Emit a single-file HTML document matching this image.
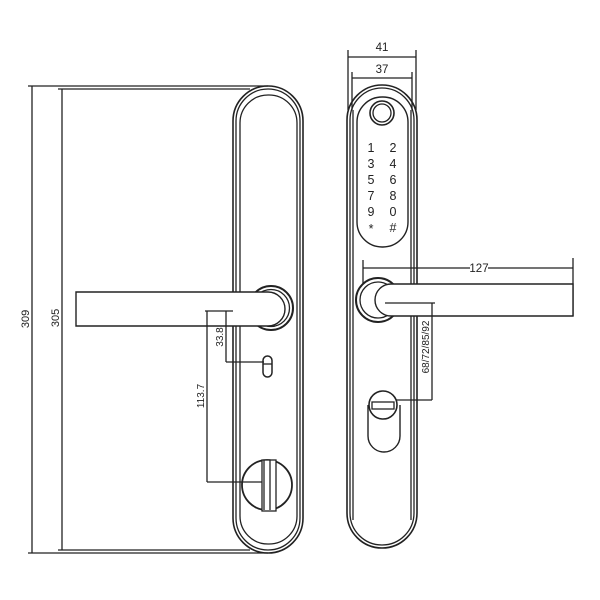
<!DOCTYPE html>
<html><head><style>
html,body{margin:0;padding:0;background:#fff;}
svg{display:block;}
text{font-family:"Liberation Sans",sans-serif;fill:#222;}
</style></head><body>
<svg width="600" height="600" viewBox="0 0 600 600" xmlns="http://www.w3.org/2000/svg">
<g fill="none" stroke="#222" stroke-width="1.3">
<line x1="28" y1="86" x2="268" y2="86"/>
<line x1="28" y1="553" x2="268" y2="553"/>
<line x1="32" y1="86" x2="32" y2="553"/>
<line x1="58" y1="89" x2="250" y2="89"/>
<line x1="58" y1="550" x2="250" y2="550"/>
<line x1="62" y1="89" x2="62" y2="550"/>
<rect x="233" y="86" width="70" height="467" rx="35" stroke-width="1.6"/>
<rect x="236" y="89" width="64" height="461" rx="32"/>
<rect x="240" y="95" width="57" height="449" rx="28"/>
<circle cx="271" cy="308" r="22" stroke-width="2"/>
<circle cx="271" cy="308" r="18.5"/>
<path d="M268 292 L76 292 L76 326 L268 326 A17 17 0 0 0 268 292 Z" fill="#fff" stroke-width="1.4"/>
<line x1="205" y1="311" x2="233" y2="311"/>
<line x1="226" y1="311" x2="226" y2="362"/>
<line x1="226" y1="362" x2="264" y2="362"/>
<line x1="207" y1="311" x2="207" y2="482"/>
<line x1="207" y1="482" x2="265" y2="482"/>
<rect x="263" y="356" width="9" height="21" rx="4.5" stroke-width="1.5"/>
<line x1="263" y1="364" x2="272" y2="364"/>
<circle cx="267" cy="485" r="25" stroke-width="1.8"/>
<rect x="262" y="460" width="14" height="51" fill="#fff"/>
<line x1="264" y1="460" x2="264" y2="510"/>
<line x1="270" y1="460" x2="270" y2="510"/>
<line x1="348" y1="50" x2="348" y2="110"/>
<line x1="416" y1="50" x2="416" y2="110"/>
<line x1="348" y1="57" x2="416" y2="57"/>
<line x1="352" y1="72" x2="352" y2="110"/>
<line x1="412" y1="72" x2="412" y2="110"/>
<line x1="352" y1="78" x2="412" y2="78"/>
<rect x="347" y="85" width="70" height="463" rx="35" stroke-width="1.6"/>
<rect x="350" y="88" width="64" height="457" rx="32"/>
<line x1="353" y1="110" x2="353" y2="520"/>
<line x1="411" y1="110" x2="411" y2="520"/>
<rect x="357" y="97" width="51" height="150" rx="25" stroke-width="1.4"/>
<circle cx="382" cy="113" r="12" stroke-width="1.6"/>
<circle cx="382" cy="113" r="9"/>
<line x1="363" y1="260" x2="363" y2="284"/>
<line x1="573" y1="258" x2="573" y2="316"/>
<line x1="363" y1="268" x2="470" y2="268"/>
<line x1="488" y1="268" x2="573" y2="268"/>
<circle cx="378" cy="300" r="22" stroke-width="2"/>
<circle cx="378" cy="300" r="18"/>
<path d="M573 284 L391 284 A16 16 0 1 0 391 316 L573 316 Z" fill="#fff" stroke-width="1.4"/>
<line x1="385" y1="303" x2="435" y2="303"/>
<line x1="432" y1="303" x2="432" y2="400"/>
<line x1="372" y1="400" x2="432" y2="400"/>
<path d="M368 405 L368 436 A16 16 0 0 0 400 436 L400 405" stroke-width="1.4"/>
<circle cx="383" cy="405" r="14" fill="#fff" stroke-width="1.6"/>
<rect x="372" y="402" width="22" height="7" fill="#fff"/>
</g>
<g font-size="11.5">
<text x="382" y="51" text-anchor="middle">41</text>
<text x="382" y="73" text-anchor="middle">37</text>
<text x="479" y="272" text-anchor="middle">127</text>
</g>
<g font-size="12.5" text-anchor="middle">
<text x="371" y="152">1</text><text x="393" y="152">2</text>
<text x="371" y="168">3</text><text x="393" y="168">4</text>
<text x="371" y="184">5</text><text x="393" y="184">6</text>
<text x="371" y="200">7</text><text x="393" y="200">8</text>
<text x="371" y="216">9</text><text x="393" y="216">0</text>
<text x="371" y="233">*</text><text x="393" y="232">#</text>
</g>
<g font-size="10">
<text transform="translate(29,319) rotate(-90)" text-anchor="middle" font-size="11">309</text>
<text transform="translate(59,318) rotate(-90)" text-anchor="middle" font-size="11">305</text>
<text transform="translate(223,337) rotate(-90)" text-anchor="middle">33.8</text>
<text transform="translate(204,396) rotate(-90)" text-anchor="middle">113.7</text>
<text transform="translate(429,347) rotate(-90)" text-anchor="middle">68/72/85/92</text>
</g>
</svg>
</body></html>
